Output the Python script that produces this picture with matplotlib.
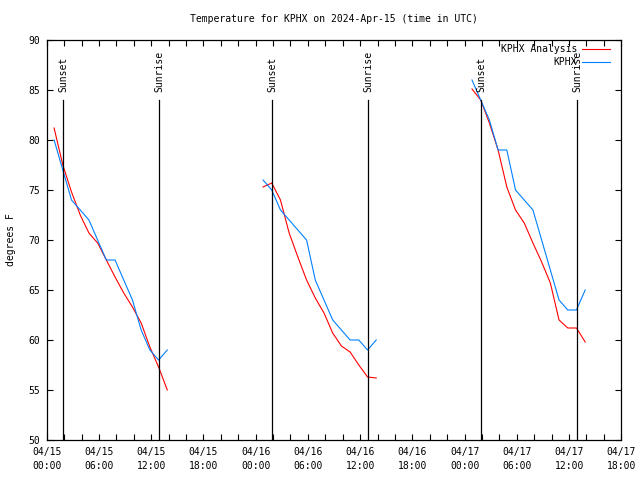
# Temperature for KPHX on 2024-Apr-15 - analysis vs observations, three nights
import pandas as pd
import matplotlib
matplotlib.use("Agg")
import matplotlib.pyplot as plt
import matplotlib.dates as mdates

# hourly times for each night (obs at hh:51 UTC)
night1_times = pd.date_range("2024-04-15 00:51", periods=14, freq="h")
night2_times = pd.date_range("2024-04-16 00:51", periods=14, freq="h")
night3_times = pd.date_range("2024-04-17 00:51", periods=14, freq="h")

# KPHX Analysis (red)
night1_analysis = [81.2, 77.5, 74.8, 72.5, 70.7, 69.7, 68.0, 66.3, 64.7, 63.3, 61.7, 59.3, 57.3, 55.0]
night2_analysis = [75.3, 75.7, 74.0, 70.7, 68.3, 66.0, 64.2, 62.7, 60.7, 59.4, 58.8, 57.5, 56.3, 56.2]
night3_analysis = [85.1, 84.0, 81.7, 79.0, 75.3, 73.0, 71.7, 69.7, 67.8, 65.7, 62.0, 61.2, 61.2, 59.8]

# KPHX observations (blue)
night1_obs = [80, 77, 74, 73, 72, 70, 68, 68, 66, 64, 61, 59, 58, 59]
night2_obs = [76, 75, 73, 72, 71, 70, 66, 64, 62, 61, 60, 60, 59, 60]
night3_obs = [86, 84, 82, 79, 79, 75, 74, 73, 70, 67, 64, 63, 63, 65]

sunsets = pd.to_datetime(["2024-04-15 01:55", "2024-04-16 01:55", "2024-04-17 01:55"])
sunrises = pd.to_datetime(["2024-04-15 12:56", "2024-04-16 12:56", "2024-04-17 12:57"])

x_start = pd.Timestamp("2024-04-15 00:00")
x_end = pd.Timestamp("2024-04-17 18:00")

plt.rcParams["font.family"] = "DejaVu Sans Mono"
plt.rcParams["font.size"] = 7

fig = plt.figure(figsize=(6.4, 4.8), dpi=100)
ax = fig.add_axes([46.7 / 640, 40 / 480, 574.6 / 640, 400 / 480])

red = "#ff0000"
blue = "#0080ff"
for t, a in [(night1_times, night1_analysis), (night2_times, night2_analysis), (night3_times, night3_analysis)]:
    ax.plot(t, a, color=red, lw=0.8)
for t, o in [(night1_times, night1_obs), (night2_times, night2_obs), (night3_times, night3_obs)]:
    ax.plot(t, o, color=blue, lw=0.8)

# sunset / sunrise markers
for t in sunsets:
    ax.plot([t, t], [50, 84], color="black", lw=0.9)
    ax.text(t, 84.8, "Sunset", rotation=90, ha="center", va="bottom", fontsize=7)
for t in sunrises:
    ax.plot([t, t], [50, 84], color="black", lw=0.9)
    ax.text(t, 84.8, "Sunrise", rotation=90, ha="center", va="bottom", fontsize=7)

ax.set_xlim(x_start, x_end)
ax.set_ylim(50, 90)
ax.set_yticks(range(50, 91, 5))
ax.xaxis.set_major_locator(mdates.HourLocator(byhour=range(0, 24, 6)))
ax.xaxis.set_minor_locator(mdates.HourLocator(byhour=range(0, 24, 2)))
ax.xaxis.set_major_formatter(mdates.DateFormatter("%m/%d\n%H:%M"))
for lbl in ax.get_xticklabels():
    lbl.set_linespacing(1.5)
ax.tick_params(which="both", direction="in", top=True, right=True, length=4, width=0.8, pad=5)
for s in ax.spines.values():
    s.set_linewidth(0.9)

ax.set_ylabel("degrees F", labelpad=9)

# legend, gnuplot style (text then sample line)
ax.text(0.9229, 0.9768, "KPHX Analysis", transform=ax.transAxes, ha="right", va="center")
ax.plot([0.9316, 0.9803], [0.9768, 0.9768], transform=ax.transAxes, color=red, lw=0.8)
ax.text(0.9229, 0.944, "KPHX", transform=ax.transAxes, ha="right", va="center")
ax.plot([0.9316, 0.9803], [0.944, 0.944], transform=ax.transAxes, color=blue, lw=0.8)

fig.text(333.5 / 640, 1 - 19 / 480, "Temperature for KPHX on 2024-Apr-15 (time in UTC)",
         ha="center", va="center", fontsize=7)

fig.savefig("out.png", dpi=100)
